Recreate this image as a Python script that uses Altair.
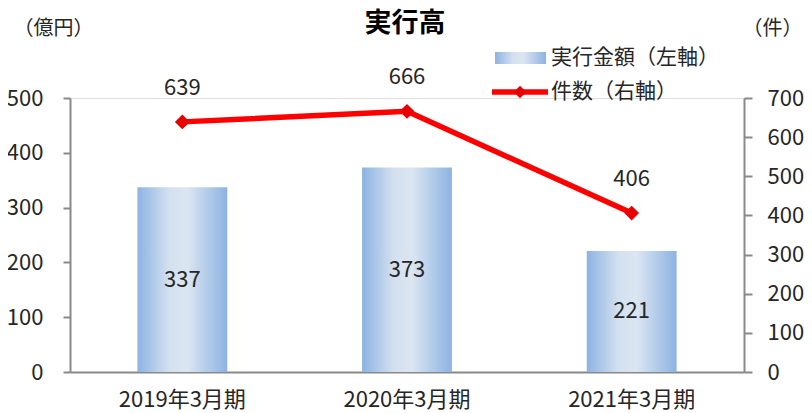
import altair as alt
import pandas as pd

years = ["2019年3月期", "2020年3月期", "2021年3月期"]
amounts = [337, 373, 221]
counts = [639, 666, 406]

FONT = "Noto Sans CJK JP"
TXT = "#262626"
AX = "#898989"
df = pd.DataFrame({"year": years, "amount": amounts, "count": counts})
df["mid"] = df["amount"] / 2

grad = alt.LinearGradient(
    gradient="linear",
    stops=[
        alt.GradientStop(color="#8DB3E2", offset=0),
        alt.GradientStop(color="#D3E0F0", offset=0.35),
        alt.GradientStop(color="#DCE6F2", offset=0.55),
        alt.GradientStop(color="#8DB3E2", offset=1),
    ],
    x1=0, x2=1, y1=0, y2=0,
)

xaxis = alt.Axis(ticks=False, labelAngle=0, labelFontSize=22, labelColor=TXT,
                 labelPadding=17, domainColor=AX, domainWidth=2, labelFont=FONT)
xenc = alt.X("year:N", sort=years, title=None,
             scale=alt.Scale(paddingInner=0.6, paddingOuter=0.3), axis=xaxis)

yleft = alt.Scale(domain=[0, 500])
laxis = alt.Axis(values=[0, 100, 200, 300, 400, 500], grid=False, title="（億円）",
                 titleAngle=0, titleX=-17, titleY=-70, titleAlign="center",
                 titleBaseline="middle", titleFontSize=20, titleFontWeight="normal",
                 titleColor=TXT, titleFont=FONT, labelOverlap=False,
                 labelFontSize=22, labelColor=TXT, labelPadding=20, tickSize=7,
                 domainColor=AX, tickColor=AX, domainWidth=2, tickWidth=2, labelFont=FONT)
bars = alt.Chart(df).mark_bar(color=grad).encode(
    x=xenc,
    y=alt.Y("amount:Q", scale=yleft, axis=laxis),
)
bar_text = alt.Chart(df).mark_text(fontSize=22, color=TXT, font=FONT, baseline="middle").encode(
    x=xenc,
    y=alt.Y("mid:Q", scale=yleft, axis=laxis),
    text="amount:Q",
)
left = alt.layer(bars, bar_text)

yright = alt.Scale(domain=[0, 700])
raxis = alt.Axis(orient="right", values=[0, 100, 200, 300, 400, 500, 600, 700], grid=False,
                 title="（件）", titleAngle=0, titleX=28, titleY=-70, titleAlign="center",
                 titleBaseline="middle", titleFontSize=20, titleFontWeight="normal",
                 titleColor=TXT, titleFont=FONT, labelOverlap=False,
                 labelFontSize=22, labelColor=TXT, labelPadding=15, tickSize=8,
                 domainColor=AX, tickColor=AX, domainWidth=2, tickWidth=2, labelFont=FONT)
ry = alt.Y("count:Q", scale=yright, axis=raxis)
line = alt.Chart(df).mark_line(color="#FF0000", strokeWidth=5.5).encode(x=xenc, y=ry)
pts = alt.Chart(df).mark_point(shape="diamond", filled=True, color="#E80000", size=220, opacity=1).encode(
    x=xenc, y=ry)
line_text = alt.Chart(df).mark_text(fontSize=22, color=TXT, font=FONT, dy=-34, baseline="middle").encode(
    x=xenc, y=ry, text="count:Q")
right = alt.layer(line, pts, line_text)

one = pd.DataFrame({"a": [0]})
title = alt.Chart(one).mark_text(text="実行高", fontSize=27, fontWeight="bold", font=FONT,
                                 color="#000000", baseline="middle").encode(
    x=alt.value(335), y=alt.value(-74))
leg_rect = alt.Chart(one).mark_rect(color=grad).encode(
    x=alt.value(425), x2=alt.value(476), y=alt.value(-46), y2=alt.value(-34))
leg_t1 = alt.Chart(one).mark_text(text="実行金額（左軸）", fontSize=21, font=FONT, align="left",
                                  baseline="middle", color=TXT).encode(
    x=alt.value(481), y=alt.value(-40))
leg_rule = alt.Chart(one).mark_rule(color="#FF0000", strokeWidth=5.5).encode(
    x=alt.value(422), x2=alt.value(478), y=alt.value(-6))
leg_pt = alt.Chart(one).mark_point(shape="diamond", filled=True, color="#E80000", size=160, opacity=1).encode(
    x=alt.value(450), y=alt.value(-6))
leg_t2 = alt.Chart(one).mark_text(text="件数（右軸）", fontSize=21, font=FONT, align="left",
                                  baseline="middle", color=TXT).encode(
    x=alt.value(481), y=alt.value(-6))

chart = alt.layer(left, right, title, leg_rect, leg_t1, leg_rule, leg_pt, leg_t2).resolve_scale(
    y="independent"
).properties(
    width=674, height=274,
    autosize=alt.AutoSizeParams(type="none"),
    padding={"left": 62, "top": 90, "right": 60, "bottom": 40},
).configure_view(stroke=None).configure(background="white")

chart.save("out.html", embed_options={"renderer": "svg", "actions": False})
